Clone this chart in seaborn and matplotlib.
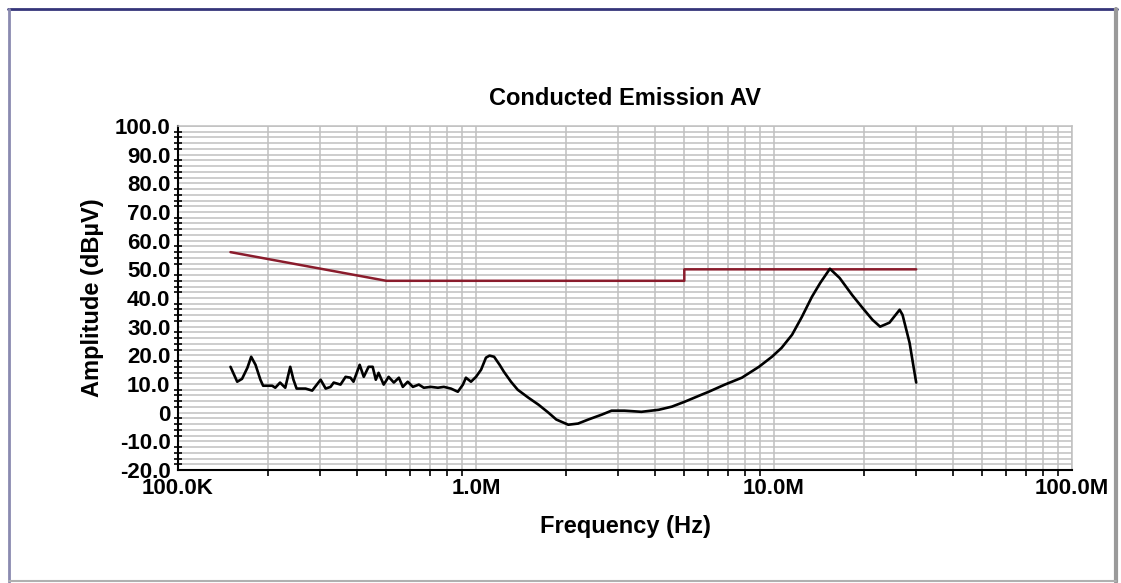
import numpy as np
import pandas as pd
import matplotlib
matplotlib.use('Agg')
import matplotlib.pyplot as plt
import seaborn as sns
from matplotlib.lines import Line2D
from matplotlib.ticker import FixedLocator, NullFormatter

# measured trace (frequency in MHz, level in dBuV)
freq_mhz = [0.150, 0.158, 0.164, 0.171, 0.176, 0.182, 0.189, 0.193, 0.207, 0.212,
            0.220, 0.229, 0.238, 0.244, 0.250, 0.268, 0.282, 0.301, 0.313, 0.325,
            0.333, 0.351, 0.365, 0.379, 0.388, 0.407, 0.420, 0.436, 0.450, 0.461,
            0.471, 0.490, 0.509, 0.530, 0.551, 0.568, 0.590, 0.614, 0.643, 0.668,
            0.705, 0.745, 0.780, 0.824, 0.869, 0.904, 0.925, 0.962, 1.00, 1.04,
            1.08, 1.11, 1.15, 1.20, 1.24, 1.31, 1.38, 1.50, 1.62, 1.75,
            1.86, 2.04, 2.20, 2.38, 2.64, 2.85, 3.15, 3.59, 4.10, 4.54,
            5.01, 5.72, 6.04, 6.84, 7.80, 8.90, 9.84, 10.6, 11.5, 12.4,
            13.4, 14.3, 15.4, 16.6, 18.3, 19.8, 21.4, 22.7, 24.4, 26.4,
            27.0, 28.5, 29.5, 30.0]
level_db = [16.0, 10.8, 11.8, 15.7, 19.5, 16.7, 11.5, 9.4, 9.4, 8.7,
            10.5, 8.7, 16.0, 11.5, 8.4, 8.4, 7.7, 11.5, 8.4, 9.0,
            10.5, 9.8, 12.5, 12.2, 10.8, 16.7, 12.5, 16.0, 16.0, 11.5,
            13.9, 9.8, 12.5, 10.5, 12.2, 9.0, 10.8, 9.0, 9.8, 8.7,
            9.0, 8.7, 9.0, 8.4, 7.3, 9.8, 12.2, 10.8, 12.5, 15.0,
            19.2, 19.9, 19.5, 16.7, 14.3, 10.8, 8.0, 5.2, 2.8, 0.0,
            -2.4, -4.2, -3.8, -2.4, -0.7, 0.7, 0.7, 0.3, 1.0, 2.1,
            3.8, 6.3, 7.3, 9.8, 12.2, 16.0, 19.5, 22.6, 27.2, 33.4,
            40.4, 45.3, 50.2, 47.0, 41.0, 36.6, 32.4, 30.0, 31.4, 35.9,
            34.1, 24.4, 15.0, 10.5]

# CISPR class B average limit
limit_mhz = [0.15, 0.5, 5.0, 5.0, 30.0]
limit_db = [56.0, 46.0, 46.0, 50.0, 50.0]

y_ticks = [100, 90, 80, 70, 60, 50, 40, 30, 20, 10, 0, -10, -20]
y_labels = ['100.0', '90.0', '80.0', '70.0', '60.0', '50.0', '40.0', '30.0',
            '20.0', '10.0', '0', '-10.0', '-20.0']
x_ticks = [1e5, 1e6, 1e7, 1e8]
x_labels = ['100.0K', '1.0M', '10.0M', '100.0M']

sns.set_style('white')
plt.rcParams['font.family'] = ['Liberation Sans', 'DejaVu Sans']
plt.rcParams['font.weight'] = 'bold'
plt.rcParams['text.color'] = 'black'
plt.rcParams['axes.labelcolor'] = 'black'
plt.rcParams['xtick.color'] = 'black'
plt.rcParams['ytick.color'] = 'black'

trace = pd.DataFrame({'f': np.array(freq_mhz) * 1e6, 'db': level_db})
limit = pd.DataFrame({'f': np.array(limit_mhz) * 1e6, 'db': limit_db})

fig = plt.figure(figsize=(11.21, 5.83), dpi=100)
ax = fig.add_axes([0.1588, 0.1938, 0.7975, 0.5901])

grid_c = '#c0c0c0'
ax.set_xscale('log')
ax.set_xlim(1e5, 1e8)
ax.set_ylim(-20, 100)

minor_x = [m * 10 ** e for e in range(5, 8) for m in range(2, 10)]
ax.xaxis.set_major_locator(FixedLocator(x_ticks))
ax.xaxis.set_minor_locator(FixedLocator(minor_x))
ax.xaxis.set_minor_formatter(NullFormatter())
ax.set_xticklabels(x_labels)
ax.yaxis.set_major_locator(FixedLocator(y_ticks))
ax.yaxis.set_minor_locator(FixedLocator(list(range(-20, 101, 2))))
ax.set_yticklabels(y_labels)

ax.grid(True, which='both', color=grid_c, linewidth=1.1)
ax.set_axisbelow(True)

sns.lineplot(data=limit, x='f', y='db', ax=ax, color='#8a1c2c', linewidth=1.8,
             estimator=None, sort=False)
sns.lineplot(data=trace, x='f', y='db', ax=ax, color='black', linewidth=1.9,
             estimator=None, sort=False)

for s in ['top', 'right']:
    ax.spines[s].set_color(grid_c)
    ax.spines[s].set_linewidth(1.1)
for s in ['left', 'bottom']:
    ax.spines[s].set_color('black')
    ax.spines[s].set_linewidth(1.5)

ax.tick_params(axis='y', which='major', direction='inout', length=9, width=1.5,
               color='black', labelsize=16, pad=1, labelcolor='black')
ax.tick_params(axis='y', which='minor', direction='inout', length=6, width=1.2,
               color='black', left=True)
ax.tick_params(axis='x', which='major', direction='out', length=6, width=1.5,
               color='black', labelsize=16, pad=0, labelcolor='black')
ax.tick_params(axis='x', which='minor', direction='out', length=4, width=1.2,
               color='black', bottom=True)

ax.set_title('Conducted Emission AV', fontsize=17, fontweight='bold', pad=15,
             color='black')
ax.set_xlabel('Frequency (Hz)', fontsize=17, fontweight='bold', labelpad=11,
              color='black')
ax.set_ylabel('Amplitude (dB\u00b5V)', fontsize=17, fontweight='bold', labelpad=8,
              color='black')

# window frame around the chart
W, H = 1121, 583
def px(x, y):
    return x / W, 1 - y / H
for (x0, y0, x1, y1, c, lw) in [(8, 9, 1117, 9, '#35357a', 2.0),
                                (9, 9, 9, 582, '#8a8ab0', 2.0),
                                (1116, 9, 1116, 582, '#9a9a9a', 3.0),
                                (9, 581, 1116, 581, '#b0b0b0', 1.5)]:
    a, b = px(x0, y0)
    c2, d = px(x1, y1)
    fig.add_artist(Line2D([a, c2], [b, d], color=c, linewidth=lw,
                          transform=fig.transFigure))

fig.savefig('out.png', dpi=100)
